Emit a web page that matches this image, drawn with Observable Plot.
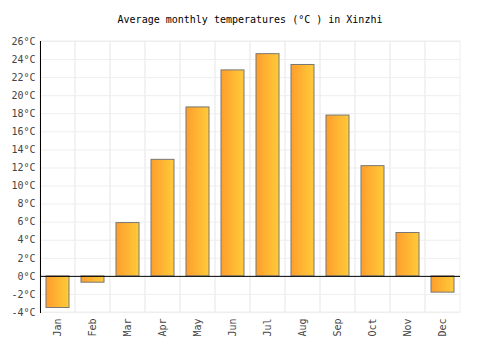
<!DOCTYPE html>
<html><head><meta charset="utf-8">
<script src="https://cdn.jsdelivr.net/npm/d3@7"></script>
<script src="https://cdn.jsdelivr.net/npm/@observablehq/plot@0.6"></script>
<style>
body{margin:0;background:#fff;}
#title{height:30px;overflow:visible;text-align:center;font:10px "DejaVu Sans Mono",monospace;line-height:40px;color:#000;width:500px;}
</style></head>
<body>
<div id="title">Average monthly temperatures (°C ) in Xinzhi</div>
<div id="chart"></div>
<script>
const months = ["Jan","Feb","Mar","Apr","May","Jun","Jul","Aug","Sep","Oct","Nov","Dec"];
const temps = [-3.5,-0.7,5.9,12.9,18.7,22.8,24.6,23.4,17.8,12.2,4.8,-1.8];
const yTicks = d3.range(-4, 27, 2);
const data = months.map((m,i)=>({month:m,temp:temps[i]}));

const plot = Plot.plot({
  width: 500, height: 320,
  marginTop: 11, marginBottom: 38, marginLeft: 40, marginRight: 40,
  style: {fontFamily: '"DejaVu Sans Mono", monospace', fontSize: "10px", color: "#444", background: "#fff"},
  x: {domain: months, padding: 0, label: null},
  y: {domain: [-4, 26], label: null},
  marks: [
    Plot.ruleY(yTicks, {stroke: "#eee", strokeWidth: 1}),
    Plot.cell(months, {x: d=>d, fill: "none", stroke: "#eee"}),
    Plot.barY(data, {x: "month", y: "temp", fill: "url(#barGrad)", stroke: "#777", strokeWidth: 1, insetLeft: 6, insetRight: 6}),
    Plot.ruleY([0], {stroke: "#000", strokeWidth: 1}),
    Plot.frame({anchor: "left", stroke: "#000"}),
    Plot.axisY({ticks: yTicks, tickFormat: d => d + "°C", tickSize: 0, tickPadding: 5, label: null}),
    Plot.axisX({tickSize: 0, tickPadding: 6, tickRotate: -90, label: null})
  ]
});
const svg = d3.select(plot);
const defs = svg.insert("defs", ":first-child");
const g = defs.append("linearGradient").attr("id","barGrad").attr("x1","0%").attr("x2","100%").attr("y1","0%").attr("y2","0%");
g.append("stop").attr("offset","0%").attr("stop-color","#ff9e2c");
g.append("stop").attr("offset","100%").attr("stop-color","#ffcb3a");
document.getElementById("chart").appendChild(plot);
</script>
</body></html>
